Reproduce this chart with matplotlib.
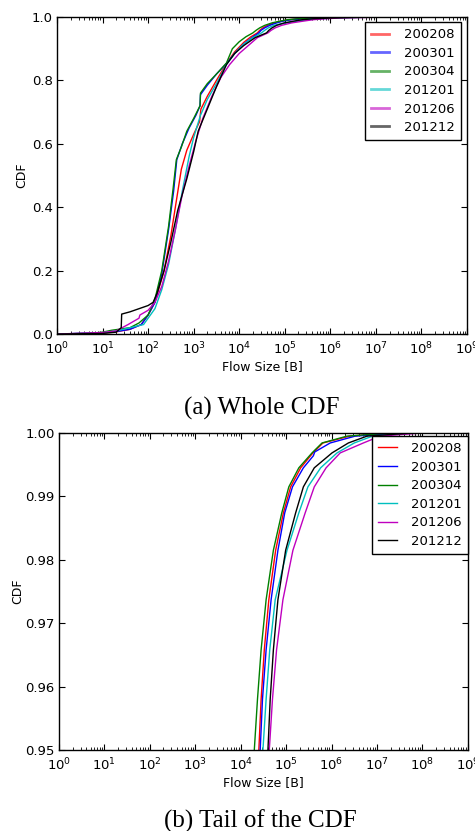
import numpy as np
import matplotlib
matplotlib.use("Agg")
import matplotlib.pyplot as plt

# series: log10(flow size in bytes) and CDF value
labels = ["200208", "200301", "200304", "201201", "201206", "201212"]
colors = ["r", "b", "g", "c", "m", "k"]

log_200208 = [0, 1.0, 1.3, 1.6, 1.85, 2.0, 2.15, 2.35, 2.5, 2.62, 2.73, 2.85, 3.0, 3.13, 3.16, 3.3, 3.5, 3.72, 3.9, 4.1, 4.25,
              4.40, 4.45, 4.52, 4.62, 4.77, 4.94, 5.10, 5.32, 5.59, 5.81, 6.4, 7.4, 9]
cdf_200208 = [0, 0.003, 0.007, 0.015, 0.03, 0.06, 0.10, 0.20, 0.31, 0.42, 0.52, 0.58, 0.63, 0.67, 0.71, 0.75, 0.80, 0.853, 0.89, 0.92, 0.937,
              0.95, 0.958, 0.9658, 0.9737, 0.9815, 0.9874, 0.9915, 0.9945, 0.99685, 0.99842, 0.9995, 1.0, 1.0]

log_200301 = [0, 1.0, 1.3, 1.6, 1.85, 2.0, 2.15, 2.3, 2.45, 2.56, 2.63, 2.75, 2.9, 3.05, 3.14, 3.15, 3.3, 3.5, 3.72, 3.9, 4.1, 4.3,
              4.43, 4.48, 4.56, 4.67, 4.82, 4.97, 5.14, 5.38, 5.60, 5.63, 5.97, 6.52, 7.5, 9]
cdf_200301 = [0, 0.004, 0.008, 0.015, 0.03, 0.06, 0.10, 0.19, 0.33, 0.45, 0.55, 0.60, 0.65, 0.69, 0.72, 0.755, 0.785, 0.82, 0.853, 0.885, 0.915, 0.937,
              0.95, 0.958, 0.9658, 0.9737, 0.9815, 0.9874, 0.9915, 0.9945, 0.99640, 0.99700, 0.99842, 0.9995, 1.0, 1.0]

log_200304 = [0, 0.8, 1.0, 1.2, 1.4, 1.6, 1.8, 2.0, 2.15, 2.3, 2.45, 2.55, 2.62, 2.73, 2.85, 3.0, 3.14, 3.15, 3.3, 3.5, 3.72, 3.85, 4.0, 4.15,
              4.30, 4.37, 4.45, 4.56, 4.72, 4.905, 5.06, 5.28, 5.57, 5.79, 6.34, 7.3, 9]
cdf_200304 = [0, 0.003, 0.006, 0.012, 0.016, 0.02, 0.035, 0.06, 0.11, 0.20, 0.34, 0.46, 0.55, 0.59, 0.64, 0.68, 0.72, 0.76, 0.79, 0.82, 0.855, 0.90, 0.922, 0.938,
              0.95, 0.958, 0.9658, 0.9737, 0.9815, 0.9874, 0.9915, 0.9945, 0.99685, 0.99842, 0.9995, 1.0, 1.0]

log_201201 = [0, 1.0, 1.3, 1.6, 1.9, 2.0, 2.15, 2.3, 2.45, 2.6, 2.75, 2.9, 3.0, 3.15, 3.3, 3.5, 3.72, 3.9, 4.1, 4.3,
              4.49, 4.56, 4.64, 4.76, 5.02, 5.28, 5.48, 5.76, 6.12, 6.5, 6.9, 7.8, 9]
cdf_201201 = [0, 0.004, 0.01, 0.02, 0.03, 0.05, 0.08, 0.14, 0.22, 0.33, 0.45, 0.56, 0.62, 0.69, 0.74, 0.79, 0.85, 0.885, 0.915, 0.935,
              0.95, 0.958, 0.9658, 0.9737, 0.9815, 0.9874, 0.9915, 0.9945, 0.99685, 0.99842, 0.9995, 1.0, 1.0]

log_201206 = [0, 1.0, 1.3, 1.56, 1.8, 1.82, 2.0, 2.15, 2.3, 2.45, 2.6, 2.75, 2.9, 3.05, 3.2, 3.4, 3.6, 3.79, 4.0, 4.2, 4.4,
              4.63, 4.70, 4.79, 4.93, 5.15, 5.42, 5.62, 5.88, 6.19, 6.70, 7.07, 8.0, 9]
cdf_201206 = [0, 0.005, 0.01, 0.03, 0.05, 0.06, 0.075, 0.10, 0.15, 0.23, 0.33, 0.44, 0.53, 0.61, 0.68, 0.75, 0.81, 0.85, 0.885, 0.91, 0.935,
              0.95, 0.958, 0.9658, 0.9737, 0.9815, 0.9874, 0.9915, 0.9945, 0.99685, 0.99842, 0.9995, 1.0, 1.0]

log_201212 = [0, 1.0, 1.3, 1.41, 1.42, 1.6, 1.8, 2.0, 2.11, 2.2, 2.35, 2.5, 2.65, 2.85, 3.0, 3.1, 3.3, 3.5, 3.72, 3.9, 4.1, 4.35,
              4.60, 4.65, 4.72, 4.82, 4.99, 5.21, 5.38, 5.62, 6.01, 6.37, 6.78, 7.8, 9]
cdf_201212 = [0, 0.002, 0.006, 0.02, 0.063, 0.07, 0.08, 0.09, 0.10, 0.13, 0.20, 0.29, 0.39, 0.49, 0.575, 0.64, 0.71, 0.78, 0.85, 0.885, 0.91, 0.935,
              0.95, 0.958, 0.9658, 0.9737, 0.9815, 0.9874, 0.9915, 0.9945, 0.99685, 0.99842, 0.9995, 1.0, 1.0]

series_log = [log_200208, log_200301, log_200304, log_201201, log_201206, log_201212]
series_cdf = [cdf_200208, cdf_200301, cdf_200304, cdf_201201, cdf_201206, cdf_201212]

plt.rcParams['font.family'] = 'DejaVu Sans'
plt.rcParams['mathtext.default'] = 'regular'
plt.rcParams['xtick.direction'] = 'in'
plt.rcParams['ytick.direction'] = 'in'
plt.rcParams['xtick.top'] = True
plt.rcParams['ytick.right'] = True
plt.rcParams['xtick.major.size'] = 4
plt.rcParams['xtick.minor.size'] = 2
plt.rcParams['ytick.major.size'] = 4
plt.rcParams['xtick.major.pad'] = 5
plt.rcParams['ytick.major.pad'] = 3

fig = plt.figure(figsize=(4.75, 8.31), dpi=100, facecolor='w')
ax1 = fig.add_axes([0.12, 0.598, 0.863, 0.3815])
ax2 = fig.add_axes([0.124, 0.0975, 0.861, 0.3815])

for ax in [ax1, ax2]:
    for i in range(len(labels)):
        x = 10 ** np.array(series_log[i])
        ax.plot(x, series_cdf[i], color=colors[i], lw=1, label=labels[i])
    ax.set_xscale('log')
    ax.set_xlim(1, 1e9)
    ax.set_xlabel('Flow Size [B]', fontsize=9, labelpad=2)
    ax.set_ylabel('CDF', fontsize=9)
    ax.xaxis.set_major_locator(matplotlib.ticker.LogLocator(base=10, numticks=12))
    ax.xaxis.set_minor_locator(matplotlib.ticker.LogLocator(base=10, subs=np.arange(2, 10), numticks=12))
    ax.tick_params(axis='both', labelsize=9.5)
    for s in ax.spines.values():
        s.set_linewidth(1)

ax1.set_ylim(0, 1.0)
ax1.set_yticks([0.0, 0.2, 0.4, 0.6, 0.8, 1.0])
ax1.yaxis.set_major_formatter(matplotlib.ticker.FormatStrFormatter('%.1f'))
ax1.yaxis.set_label_coords(-0.07, 0.5)
leg1 = ax1.legend(loc='upper right', bbox_to_anchor=(0.985, 0.983), fontsize=9.5, fancybox=False,
                  edgecolor='k', framealpha=1, handlelength=1.4, handletextpad=1.1, labelspacing=0.42,
                  borderpad=0.45, borderaxespad=0)
for h in leg1.get_lines():
    h.set_linewidth(2)
    h.set_alpha(0.6)
leg1.get_frame().set_linewidth(1)

ax2.set_ylim(0.95, 1.0)
ax2.set_yticks([0.95, 0.96, 0.97, 0.98, 0.99, 1.00])
ax2.yaxis.set_major_formatter(matplotlib.ticker.FormatStrFormatter('%.2f'))
ax2.yaxis.set_label_coords(-0.085, 0.5)
leg2 = ax2.legend(loc='upper right', bbox_to_anchor=(1.0, 0.99), fontsize=9.5, fancybox=False,
                  edgecolor='k', framealpha=1, handlelength=1.4, handletextpad=1.1, labelspacing=0.42,
                  borderpad=0.45, borderaxespad=0)
leg2.get_frame().set_linewidth(1)

fig.text(262 / 475, 1 - 408 / 831, '(a) Whole CDF', ha='center', va='center',
         family='Liberation Serif', fontsize=18)
fig.text(260 / 475, 1 - 821 / 831, '(b) Tail of the CDF', ha='center', va='center',
         family='Liberation Serif', fontsize=18)

fig.savefig('out.png', dpi=100, facecolor='w')
